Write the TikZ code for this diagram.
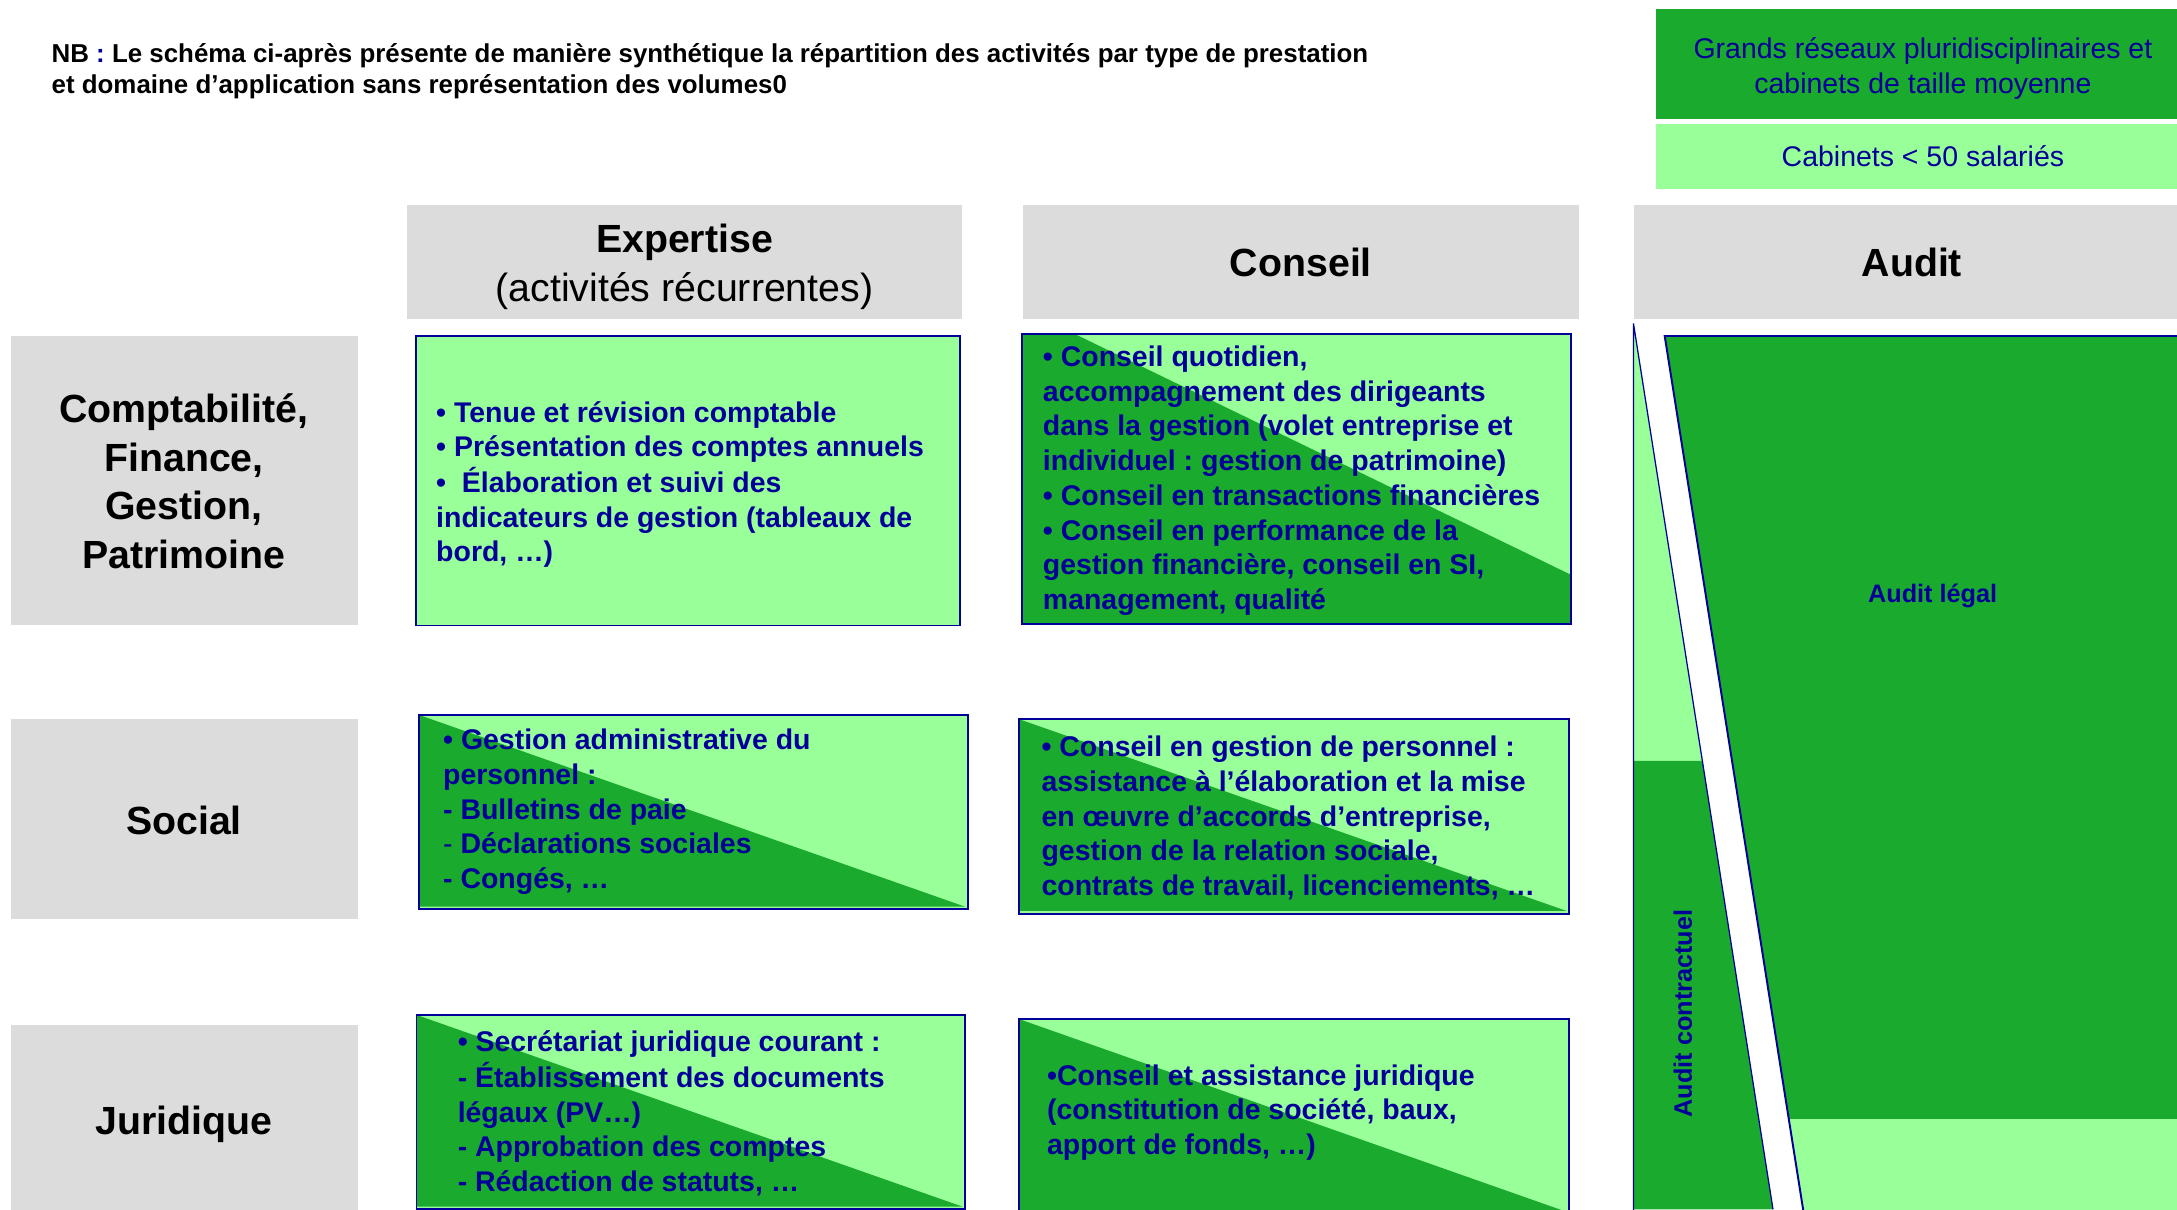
\documentclass[tikz,border=0pt]{standalone}
\usepackage{fontspec}
\setmainfont{Liberation Sans}
\definecolor{darkgreen}{RGB}{25,170,46}
\definecolor{lightgreen}{RGB}{153,255,153}
\definecolor{headgray}{RGB}{220,220,220}
\definecolor{navy}{RGB}{0,0,153}
\frenchspacing
% a block of lines whose baseline is the baseline of its first line
\newcommand{\txtblock}[2][l]{\begin{tabular}[t]{@{}#1@{}}#2\end{tabular}}
\begin{document}
\begin{tikzpicture}[x=1pt,y=-1pt,
  headcell/.style={fill=headgray},
  framebox/.style={draw=navy,line width=1.4pt},
  boxtext/.style={anchor=base west,inner sep=0pt,text=navy,
    font=\fontsize{20.5}{25}\selectfont\bfseries},
  headtext/.style={anchor=base,inner sep=0pt,
    font=\fontsize{28.3}{35}\selectfont\bfseries},
  legendtext/.style={anchor=base,inner sep=0pt,text=navy,
    font=\fontsize{20.5}{25}\selectfont},
  audittext/.style={inner sep=0pt,text=navy,
    font=\fontsize{18.2}{22}\selectfont\bfseries}]
\fill[white] (0,0) rectangle (1568,871);
\useasboundingbox (0,0) rectangle (1568,871);

% ---- note at the top
\node[anchor=base west,inner sep=0pt,font=\fontsize{18.65}{22}\selectfont\bfseries] (nb) at (37,45)
  {\txtblock{NB {\color{navy}:} Le schéma ci-après présente de manière synthétique la répartition des activités par type de prestation\\
  et domaine d’application sans représentation des volumes0}};

% ---- legend
\fill[darkgreen] (1193,6.5) rectangle (1570,86);
\fill[lightgreen] (1193,89) rectangle (1570,136);
\node[legendtext] (leg1) at (1385,42)
  {\txtblock[c]{Grands réseaux pluridisciplinaires et\\cabinets de taille moyenne}};
\node[legendtext] (leg2) at (1385,120) {Cabinets < 50 salariés};

% ---- column headers
\fill[headcell] (293,148) rectangle (693,230);
\fill[headcell] (737,148) rectangle (1137,230);
\fill[headcell] (1177,148) rectangle (1570,230);
\node[anchor=base,inner sep=0pt,font=\fontsize{28.3}{35}\selectfont] (hexp) at (493,182)
  {\txtblock[c]{\textbf{Expertise}\\(activités récurrentes)}};
\node[headtext] (hcons) at (937,199) {Conseil};
\node[headtext] (haudit) at (1377,199) {Audit};

% ---- row headers
\fill[headcell] (8,242) rectangle (257.5,450.5);
\fill[headcell] (8,518) rectangle (257.5,662);
\fill[headcell] (8,738) rectangle (257.5,875);
\node[headtext] (rcompta) at (132.5,304.5)
  {\txtblock[c]{Comptabilité,\\Finance,\\Gestion,\\Patrimoine}};
\node[headtext] (rsocial) at (132.5,601) {Social};
\node[headtext] (rjur) at (132.5,817) {Juridique};

% ---- Comptabilité / Expertise
\fill[lightgreen] (299.5,242) rectangle (691.5,450.5);
\draw[framebox] (299.5,242) rectangle (691.5,450.5);
\node[boxtext] (t11) at (314,304)
  {\txtblock{• Tenue et révision comptable\\
  • Présentation des comptes annuels\\
  • \ Élaboration et suivi des\\
  indicateurs de gestion (tableaux de\\
  bord, …)}};

% ---- Comptabilité / Conseil
\fill[lightgreen] (736,240.5) rectangle (1131.5,449.5);
\fill[darkgreen] (736,240.5) -- (774,240.5) -- (1131.5,414) -- (1131.5,449.5) -- (736,449.5) -- cycle;
\draw[framebox] (736,240.5) rectangle (1131.5,449.5);
\node[boxtext] (t12) at (751,264)
  {\txtblock{• Conseil quotidien,\\
  accompagnement des dirigeants\\
  dans la gestion (volet entreprise et\\
  individuel : gestion de patrimoine)\\
  • Conseil en transactions financières\\
  • Conseil en performance de la\\
  gestion financière, conseil en SI,\\
  management, qualité}};

% ---- Social / Expertise
\fill[lightgreen] (302,515) rectangle (697,655);
\fill[darkgreen] (302,515) -- (695,653) -- (302,653) -- cycle;
\draw[framebox] (302,515) rectangle (697,655);
\node[boxtext] (t21) at (319,540)
  {\txtblock{• Gestion administrative du\\
  personnel :\\
  - Bulletins de paie\\
  {\mdseries -} Déclarations sociales\\
  - Congés, …}};

% ---- Social / Conseil
\fill[lightgreen] (734,518) rectangle (1130,658);
\fill[darkgreen] (734,518) -- (1128,656) -- (734,656) -- cycle;
\draw[framebox] (734,518) rectangle (1130,658);
\node[boxtext] (t22) at (750,545)
  {\txtblock{• Conseil en gestion de personnel :\\
  assistance à l’élaboration et la mise\\
  en œuvre d’accords d’entreprise,\\
  gestion de la relation sociale,\\
  contrats de travail, licenciements, …}};

% ---- Juridique / Expertise
\fill[lightgreen] (300,731) rectangle (695,871);
\fill[darkgreen] (300,731) -- (693,869) -- (300,869) -- cycle;
\draw[framebox] (300,731) rectangle (695,871);
\node[boxtext] (t31) at (329.5,757.5)
  {\txtblock{• Secrétariat juridique courant :\\
  - Établissement des documents\\
  légaux (PV…)\\
  - Approbation des comptes\\
  - Rédaction de statuts, …}};

% ---- Juridique / Conseil
\fill[lightgreen] (734,734) rectangle (1130,874);
\fill[darkgreen] (734,734) -- (1126,872) -- (734,872) -- cycle;
\draw[framebox] (734,734) rectangle (1130,874);
\node[boxtext] (t32) at (754,781.5)
  {\txtblock{•Conseil et assistance juridique\\
  (constitution de société, baux,\\
  apport de fonds, …)}};

% ---- Audit column: contractual strip on the left
\fill[lightgreen] (1176.5,233) -- (1226,548) -- (1176.5,548) -- cycle;
\fill[darkgreen] (1176.5,548) -- (1226,548) -- (1277,871) -- (1176.5,871) -- cycle;
\draw[navy,line width=0.9pt] (1176.5,872) -- (1176.5,233) -- (1277,871);
% ---- Audit column: statutory audit block
\fill[darkgreen] (1199,242) -- (1570,242) -- (1570,806) -- (1288.5,806) -- cycle;
\fill[lightgreen] (1288.5,806) -- (1570,806) -- (1570,873) -- (1299,873) -- cycle;
\draw[navy,line width=1.4pt] (1570,242) -- (1199,242) -- (1299,873);
\node[audittext] (alegal) at (1392,429) {Audit légal};
\node[audittext,rotate=90] (acontr) at (1212,730) {Audit contractuel};
\end{tikzpicture}
\end{document}
